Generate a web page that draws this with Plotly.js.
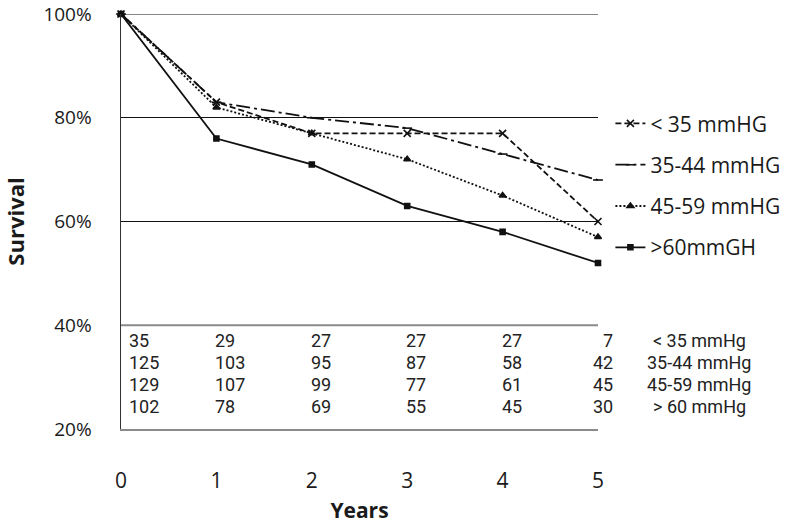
<!DOCTYPE html>
<html>
<head>
<meta charset="utf-8">
<script src="https://cdn.plot.ly/plotly-3.0.1.min.js"></script>
<style>html,body{margin:0;padding:0;background:#fff;}#chart{width:800px;height:524px;}</style>
</head>
<body>
<div id="chart"></div>
<script>
// ---- data ----
const years = [0, 1, 2, 3, 4, 5];
const seriesNames = ["< 35 mmHG", "35-44 mmHG", "45-59 mmHG", ">60mmGH"];
const survLt35 = [100, 83, 77, 77, 77, 60];
const surv35to44 = [100, 83, 80, 78, 73, 68];
const surv45to59 = [100, 82, 77, 72, 65, 57];
const survGt60 = [100, 76, 71, 63, 58, 52];

const riskLabels = ["< 35 mmHg", "35-44 mmHg", "45-59 mmHg", "> 60 mmHg"];
const riskLt35 = [35, 29, 27, 27, 27, 7];
const risk35to44 = [125, 103, 95, 87, 58, 42];
const risk45to59 = [129, 107, 99, 77, 61, 45];
const riskGt60 = [102, 78, 69, 55, 45, 30];

const yTickVals = [20, 40, 60, 80, 100];
const yTickText = ["20%", "40%", "60%", "80%", "100%"];

// ---- styles ----
const INK = "#111111";
const styles = [
  {dash: "6px,3px", symbol: "x-thin", size: 7},
  {dash: "14px,4px,3px,4px", symbol: "line-ew", size: 7},
  {dash: "2px,2px", symbol: "triangle-up", size: 6},
  {dash: "solid", symbol: "square", size: 5}
];
const survSeries = [survLt35, surv35to44, surv45to59, survGt60];
const riskRows = [riskLt35, risk35to44, risk45to59, riskGt60];

const traces = survSeries.map((s, i) => ({
  x: years, y: s, type: "scatter", mode: "lines+markers",
  name: seriesNames[i], legendgroup: "g" + i,
  cliponaxis: false,
  line: {color: INK, width: 1.8, dash: styles[i].dash},
  marker: {color: INK, symbol: styles[i].symbol, size: styles[i].size,
           line: {color: INK, width: 1.6}}
}));

// table rows (vertical positions in axis units) - layout constants
const ROW_Y = [37.0, 32.8, 28.5, 24.3];
const tableFont = {family: "Liberation Sans Narrow, Roboto, sans-serif", size: 18, color: "#222"};
const annotations = [];
riskRows.forEach((row, r) => {
  row.forEach((v, c) => {
    const last = c === years.length - 1;
    annotations.push({
      x: years[c], y: ROW_Y[r], xref: "x", yref: "y",
      text: String(v), showarrow: false,
      xanchor: last ? "right" : "left",
      xshift: c === 0 ? 6 : (last ? 17 : -3),
      font: tableFont
    });
  });
  annotations.push({
    x: 1.212, y: ROW_Y[r], xref: "paper", yref: "y",
    text: riskLabels[r], showarrow: false, xanchor: "center",
    font: tableFont
  });
});

const layout = {
  width: 800, height: 524,
  margin: {l: 121, r: 202, t: 14, b: 95},
  paper_bgcolor: "#ffffff", plot_bgcolor: "#ffffff",
  font: {family: "Open Sans, sans-serif", color: "#1a1a1a"},
  showlegend: true,
  legend: {
    x: 1.026, y: 0.785, xanchor: "left", yanchor: "top",
    font: {family: "Open Sans, sans-serif", size: 21, color: "#1a1a1a"},
    traceorder: "grouped", tracegroupgap: 11, itemwidth: 30,
    bgcolor: "rgba(0,0,0,0)"
  },
  xaxis: {
    range: [0, 5], tickvals: years, ticktext: years.map(String),
    showgrid: false, zeroline: false,
    showline: true, linecolor: "#8a8a8a", linewidth: 1.5,
    ticks: "outside", ticklen: 32, tickcolor: "rgba(0,0,0,0)",
    tickfont: {family: "Open Sans, sans-serif", size: 21, color: "#1a1a1a"},
    title: {text: "<b>Years</b>", standoff: 10,
            font: {family: "Open Sans, sans-serif", size: 21, color: "#1a1a1a"}}
  },
  yaxis: {
    range: [20, 100], tickvals: yTickVals, ticktext: yTickText,
    ticklabeloverflow: "allow",
    showgrid: true, gridcolor: "#111", gridwidth: 1.2, zeroline: false,
    showline: true, linecolor: "#333", linewidth: 1.5,
    ticks: "outside", ticklen: 24, tickcolor: "rgba(0,0,0,0)",
    tickfont: {family: "Open Sans, sans-serif", size: 19, color: "#1a1a1a"},
    title: {text: "<b>Survival</b>", standoff: 18,
            font: {family: "Open Sans, sans-serif", size: 22, color: "#1a1a1a"}}
  },
  shapes: [
    {type: "line", xref: "paper", yref: "y", x0: 0, x1: 1, y0: 40, y1: 40,
     line: {color: "#8a8a8a", width: 2}, layer: "above"},
    {type: "line", xref: "paper", yref: "y", x0: 0, x1: 1, y0: 100, y1: 100,
     line: {color: "#111", width: 1.2}, layer: "below"}
  ],
  annotations: annotations
};

Plotly.newPlot("chart", traces, layout, {displayModeBar: false, staticPlot: true});
</script>
</body>
</html>
